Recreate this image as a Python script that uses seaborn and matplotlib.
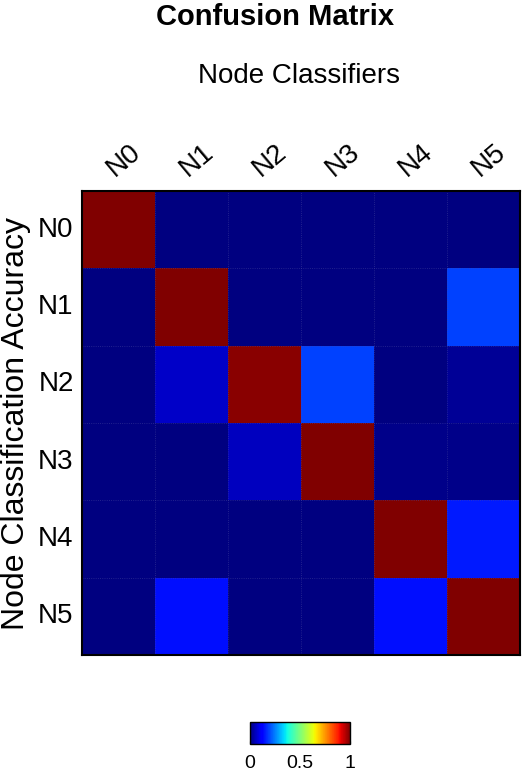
import numpy as np
import pandas as pd
import matplotlib
matplotlib.use("Agg")
import matplotlib.pyplot as plt
import seaborn as sns

# class names
nodes = ["N0", "N1", "N2", "N3", "N4", "N5"]

# confusion matrix rows (jet colormap 0..1)
row_n0 = [1.00, 0.00, 0.00, 0.00, 0.00, 0.00]
row_n1 = [0.00, 1.00, 0.00, 0.00, 0.00, 0.19]
row_n2 = [0.00, 0.066, 0.99, 0.19, 0.00, 0.02]
row_n3 = [0.00, 0.00, 0.055, 1.00, 0.01, 0.01]
row_n4 = [0.00, 0.00, 0.00, 0.00, 1.00, 0.15]
row_n5 = [0.00, 0.14, 0.00, 0.00, 0.14, 1.00]

cbar_ticks = [0, 0.5, 1]
cbar_labels = ["0", "0.5", "1"]

sns.set_style("white")
plt.rcParams["font.family"] = ["Liberation Sans", "DejaVu Sans"]
plt.rcParams["text.color"] = "black"
plt.rcParams["axes.labelcolor"] = "black"
plt.rcParams["xtick.color"] = "black"
plt.rcParams["ytick.color"] = "black"

cm = pd.DataFrame([row_n0, row_n1, row_n2, row_n3, row_n4, row_n5],
                  index=nodes, columns=nodes)

fig = plt.figure(figsize=(5.22, 7.75), dpi=100)
ax = fig.add_axes([82 / 522, 120 / 775, 438 / 522, 464 / 775])
cax = fig.add_axes([250 / 522, 31 / 775, 100 / 522, 22 / 775])

sns.heatmap(cm, ax=ax, cmap="jet", vmin=0, vmax=1, cbar_ax=cax,
            cbar_kws={"orientation": "horizontal", "ticks": cbar_ticks})

# faint dotted cell borders
for k in range(1, len(nodes)):
    ax.axhline(k, color="#4a4aa0", lw=0.6, ls=":", alpha=0.6)
    ax.axvline(k, color="#4a4aa0", lw=0.6, ls=":", alpha=0.6)

for s in ax.spines.values():
    s.set_visible(True)
    s.set_color("black")
    s.set_linewidth(1.5)

ax.xaxis.tick_top()
ax.tick_params(axis="both", length=0)
ax.tick_params(axis="x", pad=7)
ax.tick_params(axis="y", pad=6)
ax.set_xticklabels(nodes, rotation=40, ha="left", va="bottom",
                   rotation_mode="anchor", fontsize=20)
ax.set_yticklabels(nodes, rotation=0, fontsize=20)
ax.set_xlabel("")
ax.set_ylabel("Node Classification Accuracy", fontsize=23, labelpad=5)

fig.text(275 / 522, 1 - 17 / 775, "Confusion Matrix", ha="center",
         va="center", fontsize=21, fontweight="bold")
fig.text(299 / 522, 1 - 76 / 775, "Node Classifiers", ha="center",
         va="center", fontsize=20)

cax.set_xticklabels(cbar_labels, fontsize=14)
cax.tick_params(axis="x", length=2, direction="in", pad=8)
cb = ax.collections[0].colorbar
cb.outline.set_edgecolor("black")
cb.outline.set_linewidth(1)

fig.savefig("out.png", dpi=100)
